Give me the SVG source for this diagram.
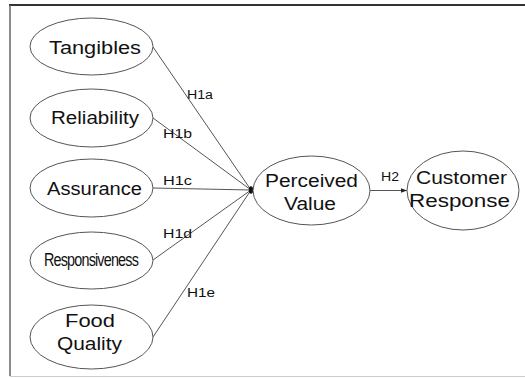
<svg xmlns="http://www.w3.org/2000/svg" width="525" height="378" viewBox="0 0 525 378">
<style>
.node ellipse{fill:#fff;stroke:#555;stroke-width:1}
.lbl{font-family:"Liberation Sans",Arial,sans-serif;font-size:17.5px;fill:#111}
.h{font-family:"Liberation Sans",Arial,sans-serif;font-size:12.5px;fill:#111}
.conn line{stroke:#555;stroke-width:1}
</style>
<defs>
<marker id="arr" markerWidth="6" markerHeight="6" refX="6" refY="3" orient="auto" markerUnits="userSpaceOnUse">
<path d="M0,0.8 L6,3 L0,5.2 Z" fill="#222"/>
</marker>
</defs>
<rect x="0" y="0" width="525" height="378" fill="#fff"/>
<line x1="9" y1="5" x2="525" y2="5" stroke="#333" stroke-width="2"/>
<line x1="10" y1="5" x2="10" y2="376" stroke="#666" stroke-width="1.5"/>
<line x1="10" y1="376.5" x2="525" y2="376.5" stroke="#ccc" stroke-width="1"/>
<g id="connectors" class="conn">
<line x1="153" y1="47" x2="251" y2="190"/>
<line x1="153" y1="118" x2="251" y2="190"/>
<line x1="153" y1="188" x2="251" y2="190"/>
<line x1="153" y1="260" x2="251" y2="190"/>
<line x1="153" y1="337" x2="251" y2="190"/>
<ellipse cx="251" cy="190" rx="2.2" ry="3.8" fill="#111"/>
<line x1="370" y1="190.5" x2="407" y2="190.5" marker-end="url(#arr)"/>
<text class="h" x="187" y="99" textLength="26" lengthAdjust="spacingAndGlyphs">H1a</text>
<text class="h" x="163" y="138" textLength="29" lengthAdjust="spacingAndGlyphs">H1b</text>
<text class="h" x="163" y="185" textLength="29" lengthAdjust="spacingAndGlyphs">H1c</text>
<text class="h" x="163" y="238" textLength="29" lengthAdjust="spacingAndGlyphs">H1d</text>
<text class="h" x="187" y="297" textLength="28" lengthAdjust="spacingAndGlyphs">H1e</text>
<text class="h" x="381" y="181" textLength="18" lengthAdjust="spacingAndGlyphs">H2</text>
</g>
<g id="tangibles" class="node">
<ellipse cx="91.5" cy="46.5" rx="61.5" ry="28.5"/>
<text class="lbl" x="49" y="54" textLength="92" lengthAdjust="spacingAndGlyphs">Tangibles</text>
</g>
<g id="reliability" class="node">
<ellipse cx="91.5" cy="118" rx="61.5" ry="29"/>
<text class="lbl" x="51" y="124" textLength="88" lengthAdjust="spacingAndGlyphs">Reliability</text>
</g>
<g id="assurance" class="node">
<ellipse cx="91.5" cy="188" rx="61.5" ry="29"/>
<text class="lbl" x="47" y="195" textLength="95" lengthAdjust="spacingAndGlyphs">Assurance</text>
</g>
<g id="responsiveness" class="node">
<ellipse cx="91.5" cy="260.5" rx="61.5" ry="28.5"/>
<text class="lbl" x="44" y="266" font-size="15" textLength="94" lengthAdjust="spacingAndGlyphs" letter-spacing="-1">Responsiveness</text>
</g>
<g id="food-quality" class="node">
<ellipse cx="91.5" cy="337" rx="61.5" ry="32"/>
<text class="lbl" x="65" y="327" textLength="50" lengthAdjust="spacingAndGlyphs">Food</text>
<text class="lbl" x="57" y="350" textLength="65" lengthAdjust="spacingAndGlyphs">Quality</text>
</g>
<g id="perceived-value" class="node">
<ellipse cx="311.5" cy="190.5" rx="58.5" ry="34.5"/>
<text class="lbl" x="265" y="187" textLength="93" lengthAdjust="spacingAndGlyphs">Perceived</text>
<text class="lbl" x="284" y="210" textLength="52" lengthAdjust="spacingAndGlyphs">Value</text>
</g>
<g id="customer-response" class="node">
<ellipse cx="463" cy="190.5" rx="56" ry="39.5"/>
<text class="lbl" x="416" y="184" textLength="91" lengthAdjust="spacingAndGlyphs">Customer</text>
<text class="lbl" x="409" y="207" textLength="101" lengthAdjust="spacingAndGlyphs">Response</text>
</g>
</svg>
